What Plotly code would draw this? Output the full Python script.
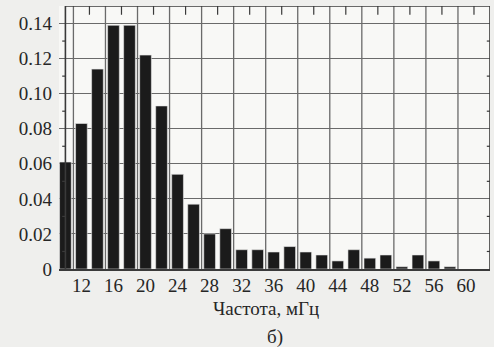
import plotly.graph_objects as go

# Frequency histogram: bin centres (mHz) and relative frequencies
freq_bins = [10, 12, 14, 16, 18, 20, 22, 24, 26, 28, 30, 32, 34, 36, 38,
             40, 42, 44, 46, 48, 50, 52, 54, 56, 58]
rel_freq = [0.061, 0.083, 0.114, 0.139, 0.139, 0.122, 0.093, 0.054, 0.037,
            0.020, 0.023, 0.011, 0.011, 0.0097, 0.0128, 0.0097, 0.008,
            0.0046, 0.011, 0.0062, 0.008, 0.0013, 0.008, 0.0046, 0.0013]

x_tick_vals = [12, 16, 20, 24, 28, 32, 36, 40, 44, 48, 52, 56, 60]
y_tick_vals = [0, 0.02, 0.04, 0.06, 0.08, 0.10, 0.12, 0.14]
y_tick_text = ["0", "0.02", "0.04", "0.06", "0.08", "0.10", "0.12", "0.14"]
x_grid_vals = list(range(11, 60, 4))
x_top_tick_vals = list(range(13, 62, 4))
y_minor_vals = [0.01, 0.03, 0.05, 0.07, 0.09, 0.11, 0.13]
x_title = "Частота, мГц"
panel_label = "б)"

X_MIN, X_MAX = 9.2, 63.0
FRAME_LEFT = 10
Y_MAX = 0.15
TICK_DX = 0.4      # short horizontal tick length, in x units
TICK_DY = 0.0025   # short vertical tick length, in y units
FONT = "Liberation Serif, serif"
INK = "#262626"
GRID = "#6a6a6a"
FRAME = "#3a3a3a"


def polyline(segments):
    xs, ys = [], []
    for (x0, y0, x1, y1) in segments:
        xs += [x0, x1, None]
        ys += [y0, y1, None]
    return xs, ys


fig = go.Figure()

# Vertical grid lines (under the bars)
gx, gy = polyline([(v, 0, v, Y_MAX) for v in x_grid_vals])
fig.add_trace(go.Scatter(x=gx, y=gy, mode="lines", hoverinfo="skip",
                         line=dict(color=GRID, width=1.3)))

fig.add_trace(go.Bar(
    x=freq_bins, y=rel_freq, width=1.46,
    marker=dict(color="#1b1b1b", line=dict(color="#e8e8e8", width=0.6)),
))

# Frame borders and small tick marks
frame = [(FRAME_LEFT, 0, FRAME_LEFT, Y_MAX), (X_MAX, 0, X_MAX, Y_MAX),
         (FRAME_LEFT, Y_MAX, X_MAX, Y_MAX)]
ticks = [(v, 0, v, -TICK_DY * 1.6) for v in x_grid_vals]
ticks += [(v, Y_MAX, v, Y_MAX - TICK_DY * 2) for v in x_top_tick_vals]
ticks += [(FRAME_LEFT - TICK_DX, v, FRAME_LEFT, v) for v in y_minor_vals]
ticks += [(X_MAX - TICK_DX, v, X_MAX, v) for v in y_minor_vals]
fx, fy = polyline(frame)
fig.add_trace(go.Scatter(x=fx, y=fy, mode="lines", hoverinfo="skip",
                         cliponaxis=False, line=dict(color=FRAME, width=1.6)))
tx, ty = polyline(ticks)
fig.add_trace(go.Scatter(x=tx, y=ty, mode="lines", hoverinfo="skip",
                         cliponaxis=False, line=dict(color=FRAME, width=1.2)))

fig.update_layout(
    width=494, height=347,
    margin=dict(l=59, r=4, t=6, b=78),
    paper_bgcolor="#efefed", plot_bgcolor="#f8f8f6",
    showlegend=False,
    font=dict(family=FONT, size=19, color=INK),
    xaxis=dict(
        range=[X_MIN, X_MAX], tickvals=x_tick_vals, ticks="",
        showgrid=False, zeroline=False,
        showline=True, linecolor=FRAME, linewidth=1.6,
        ticklabelstandoff=-2,
        tickfont=dict(family=FONT, size=19, color=INK),
    ),
    yaxis=dict(
        range=[0, Y_MAX], tickvals=y_tick_vals, ticktext=y_tick_text,
        ticks="", showgrid=True, gridcolor=GRID, gridwidth=1.3,
        zeroline=False, showline=False, ticklabelstandoff=6,
        tickfont=dict(family=FONT, size=19, color=INK),
    ),
    annotations=[
        dict(text=x_title, xref="x", yref="paper", x=35.0, y=-0.15,
             xanchor="center", yanchor="middle", showarrow=False,
             font=dict(family=FONT, size=19, color=INK)),
        dict(text=panel_label, xref="x", yref="paper", x=36.2, y=-0.26,
             xanchor="center", yanchor="middle", showarrow=False,
             font=dict(family=FONT, size=19, color=INK)),
    ],
)

fig.write_html("out.html")
